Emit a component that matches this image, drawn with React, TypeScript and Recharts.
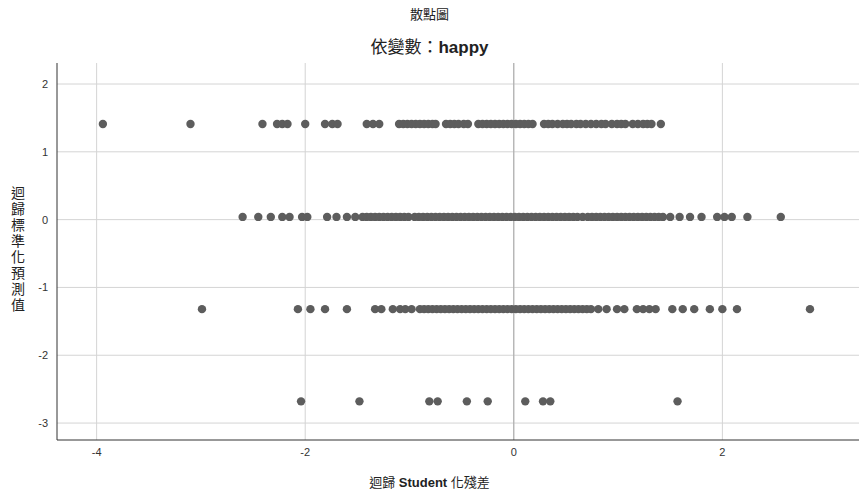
import {
  ScatterChart,
  Scatter,
  XAxis,
  YAxis,
  CartesianGrid,
  ReferenceLine,
} from "recharts";

// predicted value (y) of each horizontal band
const rowY = [1.41, 0.04, -1.32, -2.68];

// studentized residuals
const row1X = [
  -3.94, -3.1, -2.41, -2.27, -2.22, -2.17, -2.0, -1.81, -1.74, -1.69, -1.41, -1.35, -1.29,
  -1.1, -1.06, -1.02, -0.98, -0.94, -0.9, -0.86, -0.82, -0.78, -0.75,
  -0.65, -0.61, -0.57, -0.53, -0.48, -0.44,
  -0.34, -0.3, -0.26, -0.22, -0.18, -0.14, -0.1, -0.06, -0.02, 0.02, 0.06, 0.1, 0.14, 0.18,
  0.29, 0.33, 0.37, 0.42, 0.47, 0.51, 0.55, 0.6, 0.64, 0.69, 0.74, 0.79, 0.84, 0.88,
  0.94, 0.99, 1.03, 1.07, 1.14, 1.19, 1.24, 1.28, 1.32, 1.41,
];

const row2X = [
  -2.6, -2.45, -2.33, -2.22, -2.15, -2.03, -1.98, -1.79, -1.7, -1.6, -1.52,
  -1.45, -1.41, -1.37, -1.33, -1.29, -1.25, -1.21, -1.17, -1.13, -1.09, -1.05, -1.01,
  -0.95, -0.91, -0.87, -0.83, -0.79, -0.75, -0.71, -0.67, -0.63, -0.59, -0.55, -0.51,
  -0.47, -0.43, -0.39, -0.35, -0.31, -0.27, -0.23, -0.19, -0.15, -0.11, -0.07, -0.03,
  0.01, 0.05, 0.09, 0.13, 0.17, 0.21, 0.25, 0.29, 0.33, 0.37, 0.41, 0.45, 0.49, 0.53,
  0.57, 0.61, 0.66, 0.71, 0.75, 0.79, 0.83, 0.87, 0.91, 0.95, 0.99, 1.03, 1.07, 1.11,
  1.15, 1.19, 1.23, 1.27, 1.31, 1.35, 1.39, 1.43,
  1.5, 1.59, 1.69, 1.8, 1.95, 2.02, 2.09, 2.24, 2.56,
];

const row3X = [
  -2.99, -2.07, -1.95, -1.81, -1.6, -1.33, -1.27, -1.16, -1.09, -1.04, -0.98,
  -0.9, -0.86, -0.82, -0.78, -0.74, -0.7, -0.66, -0.62, -0.58, -0.54, -0.5, -0.46,
  -0.42, -0.38, -0.34, -0.3, -0.26, -0.22, -0.18, -0.14, -0.1, -0.06, -0.02, 0.02,
  0.06, 0.1, 0.14, 0.18, 0.22, 0.26, 0.3, 0.34, 0.38, 0.42, 0.46, 0.5, 0.54, 0.58,
  0.62, 0.66, 0.7, 0.74, 0.81, 0.89,
  0.99, 1.06, 1.18, 1.24, 1.3, 1.36, 1.52, 1.62, 1.73, 1.88, 2.0, 2.14, 2.84,
];

const row4X = [-2.04, -1.48, -0.81, -0.73, -0.45, -0.25, 0.11, 0.28, 0.35, 1.57];

const xTicks = [-4, -2, 0, 2];
const yTicks = [-3, -2, -1, 0, 1, 2];

const title = "散點圖";
const subtitlePrefix = "依變數：";
const subtitleVar = "happy";
const xLabel = ["迴歸 ", "Student", " 化殘差"];
const yLabel = "迴歸標準化預測值";

const points = [row1X, row2X, row3X, row4X].flatMap((xs, i) =>
  xs.map((x) => ({ x, y: rowY[i] }))
);

const FONT = '"Liberation Sans", Arial, "Noto Sans CJK TC", sans-serif';
const DOT = "#5d5d5d";

const Dot = (props: any) => (
  <circle cx={props.cx} cy={props.cy} r={4.2} fill={DOT} />
);

export default function App() {
  return (
    <div
      style={{
        position: "absolute",
        left: 0,
        top: 0,
        width: 859,
        height: 497,
        background: "#fff",
        fontFamily: FONT,
        color: "#222",
      }}
    >
      <div
        style={{
          position: "absolute",
          top: 7,
          left: 0,
          width: 859,
          textAlign: "center",
          fontSize: 13,
          lineHeight: "16px",
        }}
      >
        {title}
      </div>
      <div
        style={{
          position: "absolute",
          top: 38,
          left: 0,
          width: 859,
          textAlign: "center",
          fontSize: 17,
          lineHeight: "20px",
        }}
      >
        {subtitlePrefix}
        <b>{subtitleVar}</b>
      </div>
      <div
        style={{
          position: "absolute",
          top: 475,
          left: 0,
          width: 859,
          textAlign: "center",
          fontSize: 13,
          lineHeight: "16px",
        }}
      >
        {xLabel[0]}
        <b>{xLabel[1]}</b>
        {xLabel[2]}
      </div>
      <div
        style={{
          position: "absolute",
          top: 185,
          left: 10,
          width: 16,
          textAlign: "center",
          fontSize: 14,
          lineHeight: "16px",
        }}
      >
        {yLabel.split("").map((c, i) => (
          <div key={i}>{c}</div>
        ))}
      </div>
      <ScatterChart
        width={859}
        height={497}
        margin={{ top: 63, right: 0, bottom: 27, left: 17 }}
        style={{ position: "absolute", left: 0, top: 0 }}
      >
        <CartesianGrid
          stroke="#d4d4d4"
          strokeWidth={1}
          horizontalValues={yTicks}
          verticalValues={xTicks}
        />
        <XAxis
          type="number"
          dataKey="x"
          domain={[-4.38, 3.31]}
          ticks={xTicks}
          allowDataOverflow
          height={30}
          tickLine={false}
          axisLine={{ stroke: "#333" }}
          tick={{ fontSize: 11, fill: "#333", fontFamily: FONT }}
        />
        <YAxis
          type="number"
          dataKey="y"
          domain={[-3.25, 2.31]}
          ticks={yTicks}
          allowDataOverflow
          width={40}
          tickLine={false}
          tickSize={6}
          tickMargin={3}
          axisLine={{ stroke: "#333" }}
          tick={{ fontSize: 11, fill: "#333", fontFamily: FONT }}
        />
        <ReferenceLine x={0} stroke="#a8a8a8" />
        <Scatter data={points} shape={Dot} isAnimationActive={false} />
      </ScatterChart>
    </div>
  );
}
